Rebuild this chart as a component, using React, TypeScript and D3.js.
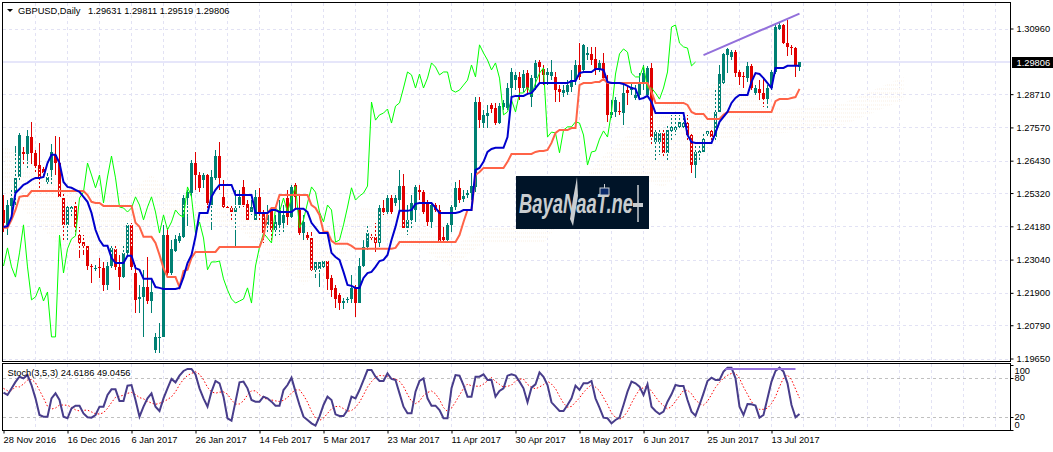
import { FC, useEffect, useRef } from 'react';
import * as d3 from 'd3';

// all prices are in 1/10000 (12981 = 1.2981)
const opens = [
  12474,12423,12488,12532,12587,12673,12666,12724,12670,12628,
  12615,12570,12611,12663,12635,12515,12423,12478,12488,12388,
  12364,12351,12282,12274,12279,12276,12217,12282,12341,12279,
  12244,12327,12423,12258,12169,12176,12210,12162,11994,12037,
  12039,12388,12258,12334,12368,12382,12515,12532,12635,12594,
  12577,12594,12491,12584,12659,12519,12484,12481,12467,12491,
  12553,12495,12467,12440,12519,12464,12423,12474,12406,12423,
  12430,12515,12450,12560,12474,12395,12388,12378,12269,12272,
  12279,12299,12241,12207,12183,12155,12166,12169,12207,12155,
  12282,12347,12382,12382,12361,12481,12467,12515,12498,12508,
  12556,12413,12440,12474,12543,12536,12498,12433,12491,12474,
  12382,12371,12423,12484,12550,12512,12525,12532,12553,12844,
  12772,12796,12834,12823,12772,12827,12823,12892,12919,12930,
  12892,12943,12861,12926,12981,12957,12937,12933,12930,12889,
  12875,12878,12895,12919,12971,12954,13005,13009,12992,12954,
  12978,12909,12800,12810,12813,12806,12885,12885,12858,12868,
  12909,12868,12961,12707,12707,12738,12670,12745,12748,12759,
  12759,12772,12731,12628,12670,12673,12735,12745,12724,12810,
  12909,13005,12998,13015,12947,12933,12926,12968,12875,12889,
  12875,12854,12892,12947,13094,13108,13046,13033,13029,12963,
];
const highs = [
  12525,12508,12543,12694,12738,12690,12748,12776,12680,12704,
  12622,12601,12700,12728,12724,12550,12491,12491,12508,12416,
  12388,12358,12289,12286,12310,12296,12296,12354,12351,12320,
  12354,12430,12430,12286,12217,12269,12313,12234,12053,12087,
  12423,12413,12371,12388,12395,12525,12543,12645,12673,12604,
  12601,12597,12611,12680,12707,12577,12491,12491,12543,12543,
  12577,12508,12508,12543,12550,12474,12491,12484,12457,12508,
  12491,12543,12560,12567,12525,12457,12399,12399,12303,12303,
  12303,12303,12251,12217,12190,12173,12176,12251,12217,12310,
  12371,12423,12395,12430,12491,12508,12525,12525,12525,12611,
  12597,12491,12525,12560,12560,12543,12508,12498,12498,12491,
  12416,12430,12491,12570,12577,12543,12543,12601,12861,12861,
  12817,12834,12841,12841,12841,12851,12909,12961,12947,12947,
  12954,12954,12937,12988,12988,12971,12961,12988,12947,12902,
  12902,12919,12954,12988,13046,13043,13033,13033,13033,12988,
  13012,12937,12851,12861,12844,12902,12902,12909,12902,12943,
  12971,12968,12978,12748,12755,12755,12765,12800,12800,12800,
  12800,12800,12738,12704,12704,12738,12745,12755,12892,12971,
  13012,13029,13022,13022,12954,12947,12981,12974,12902,12919,
  12926,12902,12954,13115,13115,13112,13125,13040,13033,12981,
];
const lows = [
  12399,12388,12447,12491,12577,12628,12611,12628,12604,12550,
  12584,12556,12563,12594,12519,12371,12371,12447,12388,12310,
  12320,12269,12224,12265,12241,12197,12200,12275,12269,12200,
  12241,12320,12269,12121,12121,12039,12152,12121,11984,11984,
  12039,12251,12251,12330,12361,12378,12419,12519,12543,12536,
  12550,12474,12406,12577,12543,12474,12474,12433,12347,12474,
  12484,12436,12457,12433,12433,12361,12399,12371,12382,12388,
  12399,12423,12447,12474,12388,12371,12371,12265,12241,12210,
  12269,12200,12176,12138,12131,12135,12155,12155,12107,12155,
  12279,12337,12371,12330,12347,12457,12460,12460,12488,12474,
  12413,12388,12406,12433,12508,12460,12419,12413,12467,12361,
  12361,12361,12399,12474,12498,12502,12515,12508,12536,12755,
  12755,12755,12806,12765,12769,12817,12817,12851,12885,12851,
  12878,12868,12827,12885,12909,12902,12902,12919,12844,12844,
  12861,12868,12878,12902,12919,12947,12988,12971,12937,12947,
  12919,12776,12789,12793,12800,12765,12834,12868,12851,12851,
  12885,12861,12697,12645,12663,12659,12645,12714,12731,12748,
  12748,12714,12601,12584,12645,12666,12724,12714,12714,12806,
  12902,12943,12988,12930,12902,12892,12913,12885,12868,12851,
  12827,12823,12885,12940,13091,13043,13002,13005,12930,12952,
];
const closes = [
  12430,12491,12515,12584,12731,12666,12728,12670,12625,12587,
  12601,12587,12673,12635,12519,12423,12484,12484,12416,12361,
  12351,12282,12279,12276,12276,12217,12282,12344,12279,12244,
  12327,12423,12279,12166,12176,12210,12162,12193,12039,12039,
  12388,12258,12341,12375,12385,12515,12536,12635,12594,12550,
  12594,12498,12587,12659,12584,12484,12481,12467,12481,12519,
  12491,12440,12484,12519,12467,12395,12457,12406,12433,12474,
  12457,12450,12553,12519,12395,12433,12378,12269,12296,12296,
  12299,12238,12200,12169,12155,12162,12169,12207,12155,12282,
  12347,12395,12378,12361,12481,12467,12515,12467,12515,12556,
  12413,12440,12498,12553,12535,12467,12433,12491,12474,12364,
  12371,12423,12484,12550,12508,12522,12532,12556,12844,12782,
  12800,12806,12820,12772,12830,12841,12892,12947,12937,12892,
  12940,12892,12926,12978,12964,12937,12947,12947,12885,12878,
  12885,12902,12919,12971,12930,13040,13012,12988,12954,12978,
  12926,12800,12810,12851,12810,12875,12875,12895,12868,12909,
  12943,12961,12724,12741,12738,12670,12748,12759,12759,12776,
  12772,12731,12628,12673,12676,12717,12745,12724,12810,12940,
  13009,13026,13015,12943,12930,12930,12968,12892,12892,12875,
  12854,12892,12947,13101,13108,13046,13033,13029,12968,12981,
];

// Ichimoku lines
const tenkan = [
  12416,12419,12450,12532,12546,12560,12567,12577,12584,12584,
  12587,12635,12663,12663,12635,12570,12553,12550,12543,12536,
  12519,12502,12464,12406,12371,12351,12351,12310,12292,12292,
  12292,12317,12317,12275,12269,12238,12238,12238,12210,12207,
  12203,12203,12203,12203,12207,12244,12292,12320,12382,12464,
  12464,12464,12519,12543,12560,12560,12560,12560,12525,12525,
  12525,12525,12525,12464,12464,12464,12464,12474,12474,12467,
  12467,12467,12467,12478,12478,12478,12467,12430,12413,12395,
  12395,12395,12327,12313,12303,12262,12217,12214,12207,12207,
  12241,12258,12262,12279,12299,12303,12320,12371,12416,12471,
  12471,12471,12474,12495,12498,12498,12498,12498,12481,12464,
  12464,12464,12464,12464,12467,12474,12474,12474,12611,12618,
  12639,12673,12683,12687,12687,12687,12724,12861,12865,12865,
  12865,12872,12875,12892,12909,12909,12909,12909,12909,12909,
  12909,12909,12916,12916,12943,12947,12947,12947,12957,12957,
  12954,12913,12909,12909,12909,12906,12899,12892,12889,12854,
  12858,12865,12844,12806,12806,12806,12806,12806,12806,12806,
  12806,12731,12707,12704,12704,12704,12704,12704,12738,12776,
  12793,12810,12841,12858,12868,12868,12868,12913,12943,12940,
  12926,12909,12892,12961,12961,12961,12968,12968,12968,12968,
];
const kijun = [
  12413,12413,12440,12474,12519,12522,12522,12539,12539,12539,
  12539,12539,12539,12539,12539,12539,12539,12539,12539,12539,
  12539,12525,12502,12498,12498,12488,12488,12488,12488,12488,
  12488,12488,12488,12430,12416,12382,12382,12382,12361,12320,
  12275,12244,12244,12244,12210,12265,12269,12310,12330,12330,
  12330,12330,12330,12330,12347,12347,12347,12347,12347,12347,
  12347,12347,12347,12347,12347,12382,12464,12481,12481,12525,
  12525,12525,12525,12525,12525,12525,12525,12491,12481,12457,
  12399,12399,12368,12358,12358,12358,12358,12351,12341,12341,
  12341,12341,12341,12341,12341,12341,12341,12341,12344,12364,
  12364,12364,12364,12364,12364,12364,12364,12364,12364,12364,
  12364,12364,12364,12364,12388,12433,12474,12474,12594,12604,
  12618,12618,12618,12618,12618,12618,12639,12666,12666,12666,
  12666,12666,12666,12673,12676,12676,12680,12704,12738,12748,
  12748,12748,12755,12755,12902,12909,12909,12909,12913,12913,
  12923,12909,12909,12909,12909,12909,12909,12909,12909,12909,
  12909,12909,12878,12841,12841,12841,12841,12841,12841,12841,
  12841,12834,12810,12803,12803,12803,12786,12786,12786,12786,
  12800,12810,12810,12810,12810,12810,12810,12810,12810,12810,
  12810,12810,12810,12847,12854,12854,12854,12858,12861,12889,
];
const chikou = [
  12282,12344,12279,12244,12327,12423,12279,12166,12176,12210,
  12162,12193,12039,12039,12388,12258,12341,12375,12385,12515,
  12536,12635,12594,12550,12594,12498,12587,12659,12584,12484,
  12481,12467,12481,12519,12491,12440,12484,12519,12467,12395,
  12457,12406,12433,12474,12457,12450,12553,12519,12395,12433,
  12378,12269,12296,12296,12299,12238,12200,12169,12155,12162,
  12169,12207,12155,12282,12347,12395,12378,12361,12481,12467,
  12515,12467,12515,12556,12413,12440,12498,12553,12535,12467,
  12433,12491,12474,12364,12371,12423,12484,12550,12508,12522,
  12532,12556,12844,12782,12800,12806,12820,12772,12830,12841,
  12892,12947,12937,12892,12940,12892,12926,12978,12964,12937,
  12947,12947,12885,12878,12885,12902,12919,12971,12930,13040,
  13012,12988,12954,12978,12926,12800,12810,12851,12810,12875,
  12875,12895,12868,12909,12943,12961,12724,12741,12738,12670,
  12748,12759,12759,12776,12772,12731,12628,12673,12676,12717,
  12745,12724,12810,12940,13009,13026,13015,12943,12930,12930,
  12968,12892,12892,12875,12854,12892,12947,13101,13108,13046,
  13033,13029,12968,12981,
];

// faint cloud, sampled along its length
const cloudBars = [0, 15, 30, 37, 45, 60, 75, 90, 105, 112, 120, 135, 150, 165, 180, 195, 210, 225];
const cloudUpper = [12697,12560,12525,12594,12491,12491,12371,12484,12423,12344,12416,12423,12662,12834,12919,12817,12841,12930];
const cloudLower = [12543,12337,12320,12423,12457,12398,12217,12371,12337,12279,12361,12361,12611,12553,12721,12738,12765,12851];

const stochK = [
  57.5,53.9,64,74,82,79.5,84.6,69.2,48.7,23,
  20.5,20.5,48.7,56.4,46.2,20.5,18,33.3,37.4,37.4,
  25.6,19.5,19,23,35.9,35.9,53.9,62.6,62.6,44.6,
  44.6,68.2,69.2,46.2,20.5,35.9,48.7,56.4,35.9,29.2,
  48.7,64.1,78.5,73.3,83.6,90.8,93.9,93.9,85.6,64.1,
  48.7,35.9,59,75.4,71.8,51.3,18,14.4,43.6,73.3,
  74.4,64.1,46.2,43.6,43.6,51.3,48.7,43.6,37.4,37.4,
  61.5,69.2,80.5,59,38.5,20.5,15.4,10.3,6.7,20.5,
  38.5,51.3,46.2,24.1,21.5,21.5,30.8,51.3,48.7,61.5,
  76.9,92.3,92.3,82,75.4,75.4,87.2,78.5,76.9,56.4,
  35.9,25.7,25.7,59,75.4,79.5,48.7,37.5,37.5,30.8,
  18,18,64.1,84.6,83.6,69.2,51.3,51.3,82,82,
  85.7,77,77,51.3,60,64.1,83.6,85.7,83.6,74.4,
  64.1,42.6,65.1,70.3,88.7,82,69.2,42.6,35.9,29.2,
  29.2,38.5,48.7,68.2,61.6,71.8,71.8,75.4,48.7,34.4,
  19,18,10.3,15.4,19,38.5,59,74.4,71.8,66.7,
  53.9,70.3,35.9,29.2,24.6,28.2,43.6,54.9,69.2,67.7,
  67.7,46.2,28.2,22.1,38.5,56.4,75.4,80.5,77,77,
  89.8,95.9,95.9,79.5,35.9,23.1,40,39.5,37.5,19,
  23.1,48.7,74.4,90.8,95.9,89.8,71.8,38.5,19.5,24.62,
];
const stochD = [
  64,60.5,60.5,66.7,66.3,70.7,76.8,77.9,72.8,61,
  49.2,36.4,32.2,33.8,38.4,38.4,38,34.9,31,29.3,
  30.3,30.6,27.8,24.9,24.6,26.5,33.3,42.2,50.2,51.8,
  53.6,56.4,57.9,54.6,49.8,48,44.1,41.5,39.4,41.2,
  43.6,46.9,51.1,58.8,69.6,78.1,83.9,87.1,89.6,85.7,
  77.3,65.7,58.7,56.6,58.2,58.7,55.1,46.2,39.8,40.1,
  44.8,54,60.3,60.3,54.4,49.8,46.7,46.2,44.9,43.7,
  45.7,49.8,57.2,61.5,61.8,53.6,42.8,28.8,18.3,14.7,
  18.3,25.5,32.7,36.1,36.3,32.9,28.8,29.9,34.8,42.8,
  53.9,66.2,74.4,81,83.8,83.5,82.5,79.7,78.7,74.9,
  67,54.7,44.1,40.6,44.4,53.1,57.7,60,55.7,46.8,
  34.5,28.4,33.7,43.1,53.7,63.9,70.6,68,67.5,67.2,
  70.5,75.6,80.8,74.6,70.2,65.9,67.2,69,75.4,78.3,
  78.3,70.1,66,63.3,66.2,69.8,75.1,70.6,63.7,51.8,
  41.2,35.1,36.3,42.8,49.3,57.8,64.4,69.8,65.9,60.4,
  49.9,39.1,26.1,19.4,16.4,20.3,28.5,41.3,52.6,62.1,
  65.2,67.4,59.7,51.2,42.8,37.7,32.3,36.1,44.1,52.7,
  60.6,61.2,55.8,46.4,40.6,38.3,44.1,54.6,65.6,73.3,
  80,84.1,87.1,87.6,79.4,66.1,54.9,43.6,35.2,31.8,
  31.8,33.6,40.6,51.2,66.6,79.9,84.6,77.4,63.1,49.05,
];

const priceTicks = [13096, 12871, 12757, 12643, 12532, 12418, 12304, 12190, 12079, 11965];
const stochTicks = [100, 80, 20, 0];
const stochLevels = [80, 20];
const dateBars = [0, 16, 32, 48, 64, 80, 96, 112, 128, 144, 160, 176, 192];
const dateLabels = [
  '28 Nov 2016', '16 Dec 2016', '6 Jan 2017', '26 Jan 2017', '14 Feb 2017', '5 Mar 2017', '23 Mar 2017',
  '11 Apr 2017', '30 Apr 2017', '18 May 2017', '6 Jun 2017', '25 Jun 2017', '13 Jul 2017',
];
const bidLabel = '1.29806';

// hand drawn trend lines: [bar, value]
const priceTrend: [number, number][] = [[175, 13005], [199, 13147]];
const stochTrend: [number, number][] = [[180.4, 93.8], [198, 93.8]];

const FONT = '"Liberation Sans", Arial, sans-serif';
const FONT_SIZE = 9.3;

const Chart: FC = () => {
  const ref = useRef<SVGSVGElement | null>(null);

  useEffect(() => {
    const svg = d3.select(ref.current);
    svg.selectAll('*').remove();

    const x = d3.scaleLinear().domain([0, 199]).range([3.5, 799.5]);
    const y = d3.scaleLinear().domain([11965, 13096]).range([358.5, 28.5]);
    const ys = d3.scaleLinear().domain([0, 100]).range([430, 365]);

    const gridX = d3.range(8, 249, 8);
    const gridColor = '#e2e2f4';

    // grid
    const grid = svg.append('g').attr('stroke', gridColor).attr('stroke-dasharray', '3,3');
    grid.selectAll('.vm').data(gridX).enter().append('line')
      .attr('x1', d => x(d)).attr('x2', d => x(d)).attr('y1', 3).attr('y2', 361);
    grid.selectAll('.vs').data(gridX).enter().append('line')
      .attr('x1', d => x(d)).attr('x2', d => x(d)).attr('y1', 364).attr('y2', 430);
    grid.selectAll('.h').data(priceTicks).enter().append('line')
      .attr('x1', 3).attr('x2', 1010)
      .attr('y1', d => Math.round(y(d)) + 0.5).attr('y2', d => Math.round(y(d)) + 0.5);
    svg.append('g').attr('stroke', '#c0c0c0').attr('stroke-dasharray', '3,3')
      .selectAll('line').data(stochLevels).enter().append('line')
      .attr('x1', 3).attr('x2', 1010)
      .attr('y1', d => Math.round(ys(d)) + 0.5).attr('y2', d => Math.round(ys(d)) + 0.5);

    // bid line
    const last = closes[closes.length - 1];
    svg.append('line').attr('x1', 3).attr('x2', 1010)
      .attr('y1', y(last)).attr('y2', y(last))
      .attr('stroke', '#e6e6fa').attr('stroke-width', 2);

    // candles
    const bars = d3.range(closes.length);
    const color = (i: number) => (closes[i] >= opens[i] ? '#008073' : '#e00000');
    const candles = svg.append('g').attr('shape-rendering', 'crispEdges');
    candles.selectAll('.wick').data(bars).enter().append('line')
      .attr('x1', d => x(d)).attr('x2', d => x(d))
      .attr('y1', d => y(highs[d])).attr('y2', d => y(lows[d]))
      .attr('stroke', d => color(d));
    candles.selectAll('.body').data(bars).enter().append('rect')
      .attr('x', d => x(d) - 1.5).attr('width', 3)
      .attr('y', d => y(Math.max(opens[d], closes[d])))
      .attr('height', d => Math.max(1, Math.abs(y(opens[d]) - y(closes[d]))))
      .attr('fill', d => color(d));

    // cloud, a dashed hatch laid over the candles
    const defs = svg.append('defs');
    const hatch = defs.append('pattern').attr('id', 'cloud-hatch')
      .attr('patternUnits', 'userSpaceOnUse').attr('width', 2).attr('height', 4).attr('x', 1).attr('y', 0);
    hatch.append('rect').attr('width', 1).attr('height', 2).attr('fill', '#fcf7f1');
    const cloud = d3.area<number>()
      .x(d => x(cloudBars[d]))
      .y0(d => y(cloudLower[d]))
      .y1(d => y(cloudUpper[d]));
    svg.append('path').attr('d', cloud(d3.range(cloudBars.length))).attr('fill', 'url(#cloud-hatch)');

    // ichimoku lines
    const priceLine = d3.line<number>().x((d, i) => x(i)).y(d => y(d));
    svg.append('path').attr('d', priceLine(chikou)).attr('fill', 'none').attr('stroke', '#00ff00');
    svg.append('path').attr('d', priceLine(kijun)).attr('fill', 'none').attr('stroke', '#ff6347').attr('stroke-width', 2);
    svg.append('path').attr('d', priceLine(tenkan)).attr('fill', 'none').attr('stroke', '#0000cd').attr('stroke-width', 2);

    // trend line on price
    const trend = d3.line<[number, number]>().x(d => x(d[0])).y(d => y(d[1]));
    svg.append('path').attr('d', trend(priceTrend)).attr('fill', 'none').attr('stroke', '#9370db').attr('stroke-width', 2);

    // stochastic
    const stochLine = d3.line<number>().x((d, i) => x(i)).y(d => ys(d));
    svg.append('path').attr('d', stochLine(stochD)).attr('fill', 'none').attr('stroke', '#ff0000').attr('stroke-dasharray', '1.5,2');
    svg.append('path').attr('d', stochLine(stochK)).attr('fill', 'none').attr('stroke', '#483d8b').attr('stroke-width', 2);
    const stochTrendLine = d3.line<[number, number]>().x(d => x(d[0])).y(d => ys(d[1]));
    svg.append('path').attr('d', stochTrendLine(stochTrend)).attr('fill', 'none').attr('stroke', '#9370db').attr('stroke-width', 2);

    // logo
    const logo = svg.append('g');
    logo.append('rect').attr('x', 516).attr('y', 176).attr('width', 133).attr('height', 53).attr('fill', '#001428');
    logo.append('text').attr('x', 519).attr('y', 213)
      .attr('font-family', '"Liberation Sans Narrow", "Liberation Sans", sans-serif')
      .attr('font-size', 27).attr('font-weight', 'bold').attr('font-style', 'italic')
      .attr('fill', '#c9cdd0').attr('textLength', 114).attr('lengthAdjust', 'spacingAndGlyphs')
      .text('BayaNaaT.ne');
    logo.append('path').attr('d', 'M577 177 L573 199 L570 219 L573 226 L578 196 Z').attr('fill', '#c9cdd0');
    logo.append('rect').attr('x', 600).attr('y', 188).attr('width', 9).attr('height', 7)
      .attr('fill', '#0b2a6b').attr('stroke', '#c9cdd0');
    logo.append('line').attr('x1', 604.5).attr('x2', 604.5).attr('y1', 184).attr('y2', 188).attr('stroke', '#c9cdd0');
    logo.append('line').attr('x1', 638).attr('x2', 638).attr('y1', 185).attr('y2', 222).attr('stroke', '#c9cdd0').attr('stroke-width', 1.5);
    logo.append('rect').attr('x', 633).attr('y', 203).attr('width', 10).attr('height', 4).attr('fill', '#c9cdd0');

    // frames
    const frames = svg.append('g').attr('fill', 'none').attr('stroke', '#000').attr('shape-rendering', 'crispEdges');
    frames.append('rect').attr('x', 2.5).attr('y', 2.5).attr('width', 1008).attr('height', 358.5);
    frames.append('rect').attr('x', 2.5).attr('y', 363.5).attr('width', 1008).attr('height', 67);

    // axes
    const priceAxis = svg.append('g').attr('transform', 'translate(1010.5,0)')
      .call(d3.axisRight(y).tickValues(priceTicks).tickSize(3).tickPadding(3).tickFormat(d => (+d / 10000).toFixed(5)));
    const stochAxis = svg.append('g').attr('transform', 'translate(1010.5,0)')
      .call(d3.axisRight(ys).tickValues(stochTicks).tickSize(3).tickPadding(1).tickFormat(d => `${d}`));
    // 100 and 0 sit inside the window, as the terminal draws them
    stochAxis.selectAll<SVGTextElement, number>('text')
      .attr('dy', d => (d === 100 ? '0.9em' : d === 0 ? '-0.25em' : '0.32em'));
    const timeAxis = svg.append('g').attr('transform', 'translate(0,430.5)')
      .call(d3.axisBottom(x).tickValues(dateBars).tickSize(3).tickPadding(3).tickFormat((d, i) => dateLabels[i]));
    timeAxis.selectAll('text').attr('text-anchor', 'start').attr('x', -0.5);
    [priceAxis, stochAxis, timeAxis].forEach(a => {
      a.attr('font-family', FONT).attr('font-size', FONT_SIZE);
      a.selectAll('.domain').remove();
      a.selectAll('text').attr('fill', '#000');
      a.selectAll('.tick line').attr('stroke', '#000');
    });

    // bid label
    svg.append('rect').attr('x', 1012).attr('y', 57).attr('width', 41).attr('height', 11).attr('fill', '#000');
    svg.append('text').attr('x', 1016.5).attr('y', 66).attr('font-family', FONT).attr('font-size', FONT_SIZE)
      .attr('fill', '#fff').text(bidLabel);

    // header
    svg.append('path').attr('d', 'M7 9 L13 9 L10 12 Z').attr('fill', '#000');
    const labels = svg.append('g').attr('font-family', FONT).attr('font-size', FONT_SIZE).attr('fill', '#000');
    labels.append('text').attr('x', 18).attr('y', 14).text('GBPUSD,Daily');
    labels.append('text').attr('x', 88).attr('y', 14).text('1.29631 1.29811 1.29519 1.29806');
    labels.append('text').attr('x', 7.5).attr('y', 376).text('Stoch(3,5,3) 24.6186 49.0456');
  }, []);

  return (
    <svg
      ref={ref}
      width={1053}
      height={452}
      style={{ position: 'absolute', left: 0, top: 0, display: 'block', background: '#fff' }}
    />
  );
};

export default function App() {
  return <Chart />;
}
